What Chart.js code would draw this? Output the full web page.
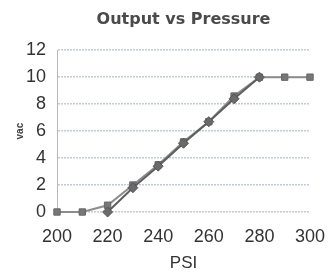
<!DOCTYPE html>
<html>
<head>
<meta charset="utf-8">
<script src="https://cdn.jsdelivr.net/npm/chart.js@4"></script>
<style>
    html, body { margin: 0; padding: 0; background: #fff; }
    #wrap { width: 328px; height: 274px; }
</style>
</head>
<body>
<div id="wrap"><canvas id="pressureChart" width="328" height="274"></canvas></div>
<script>
// Chart data
var psi = [200, 210, 220, 230, 240, 250, 260, 270, 280, 290, 300];
var measured = [0, 0, 0.5, 2.0, 3.5, 5.2, 6.7, 8.6, 10, 10, 10];
var idealPsi = [220, 230, 240, 250, 260, 270, 280];
var ideal = [0, 1.8, 3.4, 5.1, 6.7, 8.4, 10];
var xTicks = [200, 220, 240, 260, 280, 300];
var yTicks = [0, 2, 4, 6, 8, 10, 12];

function toPoints(xs, ys) {
    return xs.map(function(x, i) { return { x: x, y: ys[i] }; });
}

var tickFont = { size: 18, family: "'Liberation Sans', Arial, sans-serif" };

new Chart(document.getElementById('pressureChart').getContext('2d'), {
    type: 'line',
    data: {
        datasets: [
            {
                label: 'Ideal',
                data: toPoints(idealPsi, ideal),
                borderColor: '#5e5e5e',
                backgroundColor: '#6a6a6a',
                borderWidth: 2,
                pointStyle: 'rectRot',
                pointRadius: 5,
                pointBorderColor: '#555',
                pointBorderWidth: 1,
                tension: 0,
                clip: false
            },
            {
                label: 'Measured',
                data: toPoints(psi, measured),
                borderColor: '#8c8c8c',
                backgroundColor: '#777',
                borderWidth: 2,
                pointStyle: 'rect',
                pointRadius: 4.5,
                pointBorderColor: '#666',
                pointBorderWidth: 1,
                tension: 0,
                clip: false
            }
        ]
    },
    options: {
        responsive: false,
        animation: false,
        layout: { padding: { left: 0, right: 0, top: 4, bottom: 0 } },
        plugins: {
            legend: { display: false },
            tooltip: { enabled: false },
            title: {
                display: true,
                fullSize: false,
                text: 'Output vs Pressure',
                color: '#4a4a4a',
                font: { size: 16, weight: 'bold', family: "'DejaVu Sans', sans-serif" },
                padding: { top: 6, bottom: 21 }
            }
        },
        scales: {
            x: {
                type: 'linear',
                min: 200,
                max: 300,
                afterBuildTicks: function(scale) {
                    scale.ticks = xTicks.map(function(v) { return { value: v }; });
                },
                grid: { display: false, drawTicks: false },
                border: { display: false },
                ticks: { font: tickFont, color: '#333', padding: 14, maxRotation: 0 },
                title: {
                    display: true,
                    text: 'PSI',
                    color: '#333',
                    font: { size: 17, family: "'Liberation Sans', Arial, sans-serif" },
                    padding: { top: 9, bottom: 0 }
                },
                afterFit: function(scale) {
                    scale.height = 62;
                    scale.paddingRight = 18;
                }
            },
            y: {
                min: 0,
                max: 12,
                afterBuildTicks: function(scale) {
                    scale.ticks = yTicks.map(function(v) { return { value: v }; });
                },
                grid: { color: '#c3cbd6', drawTicks: false, lineWidth: 1.5 },
                border: { display: true, color: '#b8b8b8', dash: [2, 1] },
                ticks: { font: tickFont, color: '#333', padding: 11 },
                title: {
                    display: true,
                    text: 'vac',
                    color: '#444',
                    font: { size: 10, weight: 'bold', family: "'Liberation Sans', Arial, sans-serif" },
                    padding: { top: 14, bottom: 0 }
                },
                afterFit: function(scale) { scale.width = 57; }
            }
        }
    }
});
</script>
</body>
</html>
